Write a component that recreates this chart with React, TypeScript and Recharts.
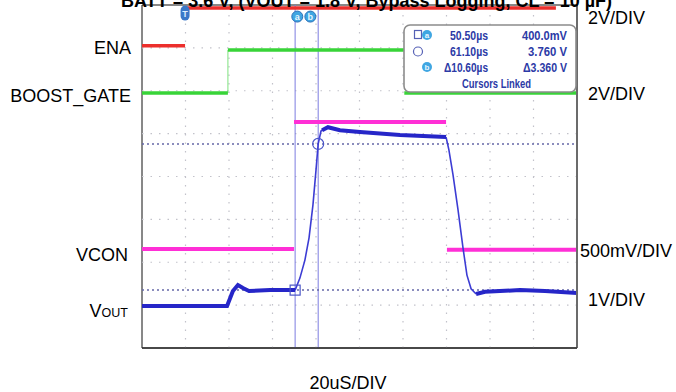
import React from "react";
import {
  LineChart,
  Line,
  XAxis,
  YAxis,
  ReferenceLine,
  ReferenceArea,
  ReferenceDot,
} from "recharts";

// time in µs (20 µs/div, 10 div), amplitude in screen divisions (8 div)
const timeTicks = [0, 20, 40, 60, 80, 100, 120, 140, 160, 180, 200];
const divTicks = [0, 1, 2, 3, 4, 5, 6, 7, 8];

const ena = [
  { t: 0, v: 7.05 },
  { t: 19.8, v: 7.05 },
  { t: 19.8, v: null },
  { t: 19.8, v: 7.93 },
  { t: 190.3, v: 7.93 },
];

const boostGate = [
  { t: 0, v: 5.95 },
  { t: 39.5, v: 5.95 },
  { t: 39.5, v: null },
  { t: 39.5, v: 6.95 },
  { t: 120.4, v: 6.95 },
  { t: 120.4, v: null },
  { t: 120.6, v: 5.95 },
  { t: 200, v: 5.95 },
];

const boostGateEdge = [
  { t: 39.5, v: 5.95 },
  { t: 39.5, v: 6.95 },
];

const vcon = [
  { t: 0, v: 2.31 },
  { t: 69.9, v: 2.31 },
  { t: 69.9, v: null },
  { t: 69.9, v: 5.27 },
  { t: 139.8, v: 5.27 },
  { t: 139.8, v: null },
  { t: 140.2, v: 2.29 },
  { t: 200, v: 2.29 },
];

const voutFlat = [
  { t: 0, v: 0.98 },
  { t: 39.1, v: 0.98 },
  { t: 41.8, v: 1.33 },
  { t: 44.1, v: 1.47 },
  { t: 46.4, v: 1.4 },
  { t: 49.2, v: 1.33 },
  { t: 58.9, v: 1.35 },
  { t: 70.4, v: 1.35 },
  { t: 70.4, v: null },
  { t: 82.8, v: 5.08 },
  { t: 85.5, v: 5.15 },
  { t: 91.0, v: 5.08 },
  { t: 100.2, v: 5.04 },
  { t: 118.6, v: 4.97 },
  { t: 139.8, v: 4.92 },
  { t: 139.8, v: null },
  { t: 153.6, v: 1.26 },
  { t: 157.7, v: 1.31 },
  { t: 164.6, v: 1.33 },
  { t: 173.8, v: 1.35 },
  { t: 185.3, v: 1.33 },
  { t: 200, v: 1.28 },
];

const voutEdges = [
  { t: 70.4, v: 1.35 },
  { t: 72.6, v: 1.63 },
  { t: 74.9, v: 2.05 },
  { t: 76.8, v: 2.57 },
  { t: 78.6, v: 3.34 },
  { t: 80.0, v: 4.15 },
  { t: 81.0, v: 4.76 },
  { t: 82.3, v: 5.06 },
  { t: 83.2, v: 5.1 },
  { t: 83.2, v: null },
  { t: 139.8, v: 4.92 },
  { t: 141.1, v: 4.62 },
  { t: 143.0, v: 4.04 },
  { t: 145.3, v: 3.22 },
  { t: 147.6, v: 2.33 },
  { t: 149.4, v: 1.7 },
  { t: 151.3, v: 1.38 },
  { t: 153.6, v: 1.26 },
];

const cursorTimes = [70.4, 81.0];
const cursorLevels = [1.35, 4.76];

const leftLabels = ["ENA", "BOOST_GATE", "VCON"];
const rightLabels = ["2V/DIV", "2V/DIV", "500mV/DIV", "1V/DIV"];
const readout = [
  ["50.50µs", "400.0mV"],
  ["61.10µs", "3.760 V"],
  ["Δ10.60µs", "Δ3.360 V"],
];
const readoutWidths = [
  [38, 45],
  [38, 39],
  [44, 44],
];

const SquareMark = (p: any) => (
  <rect x={p.cx - 5} y={p.cy - 5} width={10} height={10} fill="none" stroke="#4a55c8" strokeWidth={1.2} />
);
const CircleMark = (p: any) => (
  <circle cx={p.cx} cy={p.cy} r={5.5} fill="none" stroke="#4a55c8" strokeWidth={1.2} />
);
const CursorTag = (letter: string) => (p: any) => (
  <g>
    <circle cx={p.cx} cy={p.cy} r={5.5} fill="#3fa6e2" stroke="#2b6fb8" strokeWidth={1} />
    <text x={p.cx} y={p.cy + 3.5} textAnchor="middle" fontSize={9} fontWeight="bold" fill="#e8f6ff" fontFamily="Arial, Liberation Sans">
      {letter}
    </text>
  </g>
);
const TrigTag = (p: any) => (
  <g>
    <rect x={p.cx - 4.5} y={p.cy - 8} width={9} height={15} rx={4.5} fill="#3a78c8" />
    <text x={p.cx} y={p.cy + 3.5} textAnchor="middle" fontSize={9} fontWeight="bold" fill="#dfefff" fontFamily="Arial, Liberation Sans">
      T
    </text>
  </g>
);

const lbl = { fontFamily: "Arial, 'Liberation Sans', sans-serif", fontSize: 18, fill: "#000" } as const;
const boxFont = { fontFamily: "Arial, 'Liberation Sans', sans-serif", fontSize: 12.5, fontWeight: 700, fill: "#2c3aa6" } as const;

export default function App() {
  return (
    <div style={{ position: "absolute", left: 0, top: 0, width: 676, height: 392, overflow: "hidden", background: "#fff" }}>
      <LineChart width={676} height={392} margin={{ top: 5, right: 99, bottom: 44, left: 142 }}>
        <XAxis type="number" dataKey="t" domain={[0, 200]} ticks={timeTicks} hide allowDataOverflow />
        <YAxis type="number" domain={[0, 8]} ticks={divTicks} hide allowDataOverflow />
        {timeTicks.slice(1, -1).map((t) => (
          <ReferenceLine key={"gx" + t} x={t} stroke="#c2c2ca" strokeWidth={1.2} strokeDasharray="1.5 7" />
        ))}
        {divTicks.slice(1, -1).map((d) => (
          <ReferenceLine key={"gy" + d} y={d} stroke="#c2c2ca" strokeWidth={1.2} strokeDasharray="1.5 7" />
        ))}
        <ReferenceLine x={cursorTimes[0]} stroke="#7c7ce0" strokeWidth={1} />
        <ReferenceLine x={cursorTimes[1]} stroke="#7c7ce0" strokeWidth={1} />
        <ReferenceLine y={cursorLevels[0]} stroke="#6568a8" strokeWidth={1.5} strokeDasharray="2 3" />
        <ReferenceLine y={cursorLevels[1]} stroke="#6568a8" strokeWidth={1.5} strokeDasharray="2 3" />
        <Line data={ena} dataKey="v" type="linear" stroke="#ec2f2c" strokeWidth={3.5} dot={false} isAnimationActive={false} connectNulls={false} />
        <Line data={boostGateEdge} dataKey="v" type="linear" stroke="#7de27d" strokeWidth={1} dot={false} isAnimationActive={false} />
        <Line data={boostGate} dataKey="v" type="linear" stroke="#38d438" strokeWidth={3.5} dot={false} isAnimationActive={false} connectNulls={false} />
        <Line data={vcon} dataKey="v" type="linear" stroke="#ff2fd6" strokeWidth={4} dot={false} isAnimationActive={false} connectNulls={false} />
        <Line data={voutEdges} dataKey="v" type="linear" stroke="#3c3cd4" strokeWidth={1.6} dot={false} isAnimationActive={false} connectNulls={false} />
        <Line data={voutFlat} dataKey="v" type="linear" stroke="#2626c8" strokeWidth={4} dot={false} isAnimationActive={false} connectNulls={false} />
        <ReferenceDot x={cursorTimes[0]} y={cursorLevels[0]} shape={SquareMark} />
        <ReferenceDot x={cursorTimes[1]} y={cursorLevels[1]} shape={CircleMark} />
        <ReferenceDot x={71.4} y={7.73} shape={CursorTag("a")} />
        <ReferenceDot x={77.4} y={7.73} shape={CursorTag("b")} />
        <ReferenceDot x={19.8} y={7.8} shape={TrigTag} />
        <ReferenceArea x1={0} x2={200} y1={0} y2={8} fill="none" stroke="#111" strokeWidth={1} ifOverflow="visible" />
        <ReferenceLine x={200} stroke="#6b6b6b" strokeWidth={2} />
        <ReferenceLine y={0} stroke="#333" strokeWidth={1.5} />
      </LineChart>
      <svg width={676} height={392} style={{ position: "absolute", left: 0, top: 0, pointerEvents: "none" }}>
        <text x={121} y={7} style={{ ...lbl, fontWeight: 700 }}>
          BATT = 3.6 V, (VOUT = 1.8 V, Bypass Logging, CL = 10 µF)
        </text>
        <text x={131} y={53.5} textAnchor="end" style={lbl}>{leftLabels[0]}</text>
        <text x={131} y={101.5} textAnchor="end" style={lbl}>{leftLabels[1]}</text>
        <text x={128} y={261} textAnchor="end" style={lbl}>{leftLabels[2]}</text>
        <text x={128} y={317} textAnchor="end" style={lbl}>
          V<tspan fontSize={12.5}>OUT</tspan>
        </text>
        <text x={588} y={23.5} style={lbl}>{rightLabels[0]}</text>
        <text x={588} y={99.5} style={lbl}>{rightLabels[1]}</text>
        <text x={580} y={256.5} style={lbl}>{rightLabels[2]}</text>
        <text x={588} y={305.5} style={lbl}>{rightLabels[3]}</text>
        <text x={348} y={388.5} textAnchor="middle" style={lbl}>20uS/DIV</text>

        <rect x={404} y={25} width={172} height={67} rx={6} fill="#fff" stroke="#8c8c8c" strokeWidth={1.6} />
        <rect x={414.5} y={30.5} width={7} height={8} fill="none" stroke="#5560b5" strokeWidth={1.2} />
        <circle cx={427} cy={35} r={5} fill="#3fa6e2" />
        <text x={427} y={38} textAnchor="middle" fontSize={8} fontWeight="bold" fill="#e8f6ff" fontFamily="Arial">a</text>
        <circle cx={418} cy={51.5} r={4.5} fill="none" stroke="#5560b5" strokeWidth={1.2} />
        <circle cx={427} cy={67} r={5} fill="#3fa6e2" />
        <text x={427} y={70} textAnchor="middle" fontSize={8} fontWeight="bold" fill="#e8f6ff" fontFamily="Arial">b</text>
        {readout.map((row, i) => (
          <g key={i}>
            <text x={450 + 38 - readoutWidths[i][0]} y={39.5 + i * 16.3} textLength={readoutWidths[i][0]} lengthAdjust="spacingAndGlyphs" style={boxFont}>
              {row[0]}
            </text>
            <text x={567 - readoutWidths[i][1]} y={39.5 + i * 16.3} textLength={readoutWidths[i][1]} lengthAdjust="spacingAndGlyphs" style={boxFont}>
              {row[1]}
            </text>
          </g>
        ))}
        <text x={462} y={88} textLength={69} lengthAdjust="spacingAndGlyphs" style={boxFont}>Cursors Linked</text>
      </svg>
    </div>
  );
}
